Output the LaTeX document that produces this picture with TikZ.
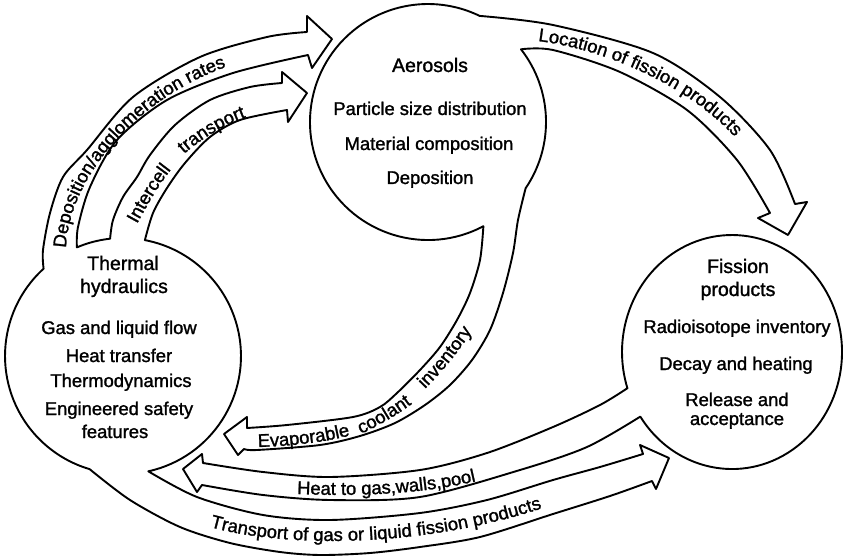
\documentclass[tikz,border=0pt]{standalone}
\usepackage{fontspec}
\setmainfont{Liberation Sans}
\usetikzlibrary{decorations.text}
\newcommand\lblfont{\fontsize{18.4}{20}\selectfont\addfontfeature{FakeBold=1.4}}
\newcommand\ttlfont{\fontsize{19.5}{21}\selectfont\addfontfeature{FakeBold=1.4}}
\begin{document}
\begin{tikzpicture}[x=1pt,y=-1pt,
  outline/.style={draw=black, line width=1.9pt, line join=round, fill=white},
  body/.style={font=\lblfont, inner sep=0pt, anchor=base},
  title/.style={font=\ttlfont, inner sep=0pt, anchor=base},
  along/.style={decorate, decoration={text along path, text align=left, text={|\lblfont|#1}}}
]
\fill[white] (0,0) rectangle (844,559);
\useasboundingbox (0,0) rectangle (844,559);

% circle centres
\coordinate (thC) at (123,356);
\coordinate (aeC) at (428,122);
\coordinate (fpC) at (732,352);

% Thermal hydraulics with its three arrows
\draw[outline] (43.6,268.7) arc[start angle=227.7, end angle=106.4, radius=118]
  -- plot[smooth] coordinates {(89.7,469.2) (130,500) (180,527) (230,543) (280,552) (320,555) (370,553) (420,547) (480,537) (553,514) (610,496) (652,481)}
  -- (656,489) -- (669,458) -- (640,445) -- (643,454)
  -- plot[smooth] coordinates {(643,454) (600,467) (553,480) (487,500) (420,513) (330,520) (263,515) (197,497) (148.3,471.3)}
  arc[start angle=77.6, end angle=-79.3, radius=118]
  -- plot[smooth] coordinates {(144.9,240.1) (153,213) (167,188) (185,163) (210,137) (240,120) (287,110)}
  -- (288,122) -- (307,93) -- (282,72) -- (282,83)
  -- plot[smooth] coordinates {(282,83) (250,87) (210,100) (175,125) (150,155) (137,177) (123,197) (113,220) (110.1,238.7)}
  arc[start angle=-96.3, end angle=-113, radius=118]
  -- plot[smooth] coordinates {(76.9,247.4) (78,227) (90,187) (117,140) (167,100) (233,73) (308,55)}
  -- (312,68) -- (332,39) -- (307,16) -- (307,32)
  -- plot[smooth] coordinates {(307,32) (267,37) (200,57) (133,97) (87,150) (63,177) (50,213) (43,250) (43.6,268.7)}
  -- cycle;

% Aerosols with its two arrows
\draw[outline] (483.4,226.2) arc[start angle=62, end angle=296, radius=118]
  -- plot[smooth] coordinates {(479.7,15.9) (553,25) (653,53) (720,97) (770,150) (795,204)}
  -- (807,202) -- (788,235) -- (758,218) -- (770,213)
  -- plot[smooth] coordinates {(770,213) (737,160) (687,110) (620,72) (553,50) (521.0,49.3)}
  arc[start angle=322, end angle=394.2, radius=118]
  -- plot[smooth] coordinates {(525.6,188.3) (518,220) (513,253) (503,293) (490,330) (472,360) (450,385) (425,405) (395,423) (360,436) (320,445) (257,450) (244,449)}
  -- (238,455) -- (224,434) -- (247,417) -- (247,428)
  -- plot[smooth] coordinates {(247,428) (287,425) (353,417) (380,407) (397,393) (420,370) (440,347) (457,320) (470,293) (480,260) (483.4,226.2)}
  -- cycle;

% Fission products with its arrow
\draw[outline] (640.3,416.6) arc[start angle=146.5, end angle=-198, x radius=110, y radius=117]
  -- plot[smooth] coordinates {(627.4,388.2) (600,405) (553,427) (487,453) (420,470) (330,477) (263,472) (203,463)}
  -- (202,454) -- (183,469) -- (197,492) -- (202,485)
  -- plot[smooth] coordinates {(202,485) (263,495) (330,500) (420,497) (520,470) (587,447) (640.3,416.6)}
  -- cycle;

% circle texts
\node[title] (aeT) at (430,72) {Aerosols};
\node[body] (ae1) at (430,115) {Particle size distribution};
\node[body] (ae2) at (429,150) {Material composition};
\node[body] (ae3) at (430,184) {Deposition};

\node[title] (thT1) at (123,270) {Thermal};
\node[title] (thT2) at (124,293) {hydraulics};
\node[body] (th1) at (119,334) {Gas and liquid flow};
\node[body] (th2) at (119,362) {Heat transfer};
\node[body] (th3) at (121,387) {Thermodynamics};
\node[body] (th4) at (119,415) {Engineered safety};
\node[body] (th5) at (115,438) {features};

\node[title] (fpT1) at (738,273) {Fission};
\node[title] (fpT2) at (738,296) {products};
\node[body] (fp1) at (737,333) {Radioisotope inventory};
\node[body] (fp2) at (736,370) {Decay and heating};
\node[body] (fp3) at (737,406) {Release and};
\node[body] (fp4) at (737,425) {acceptance};

% curved arrow labels (one cubic baseline each)
\path[along={Deposition/agglomeration rates}]
  (66,248) .. controls (70,165) and (160,75) .. (267,56);
\path[along={Intercell}]
  (137,224) .. controls (148,204) and (160,182) .. (178,161);
\path[along={transport}]
  (184,154) .. controls (205,136) and (230,121) .. (262,112);
\path[along={Location of fission products}]
  (538,41) .. controls (625,52) and (725,105) .. (760,172);
\path[along={Evaporable}]
  (258,447) .. controls (300,446) and (345,440) .. (380,426);
\path[along={coolant}]
  (361,434) .. controls (385,423) and (410,407) .. (432,388);
\path[along={inventory}]
  (425,389) .. controls (442,372) and (463,348) .. (488,306);
\path[along={Heat to gas,walls,pool}]
  (297,494) .. controls (370,497) and (440,493) .. (500,475);
\path[along={Transport of gas or liquid fission products}]
  (210,527) .. controls (300,552) and (460,545) .. (580,494);
\end{tikzpicture}
\end{document}
